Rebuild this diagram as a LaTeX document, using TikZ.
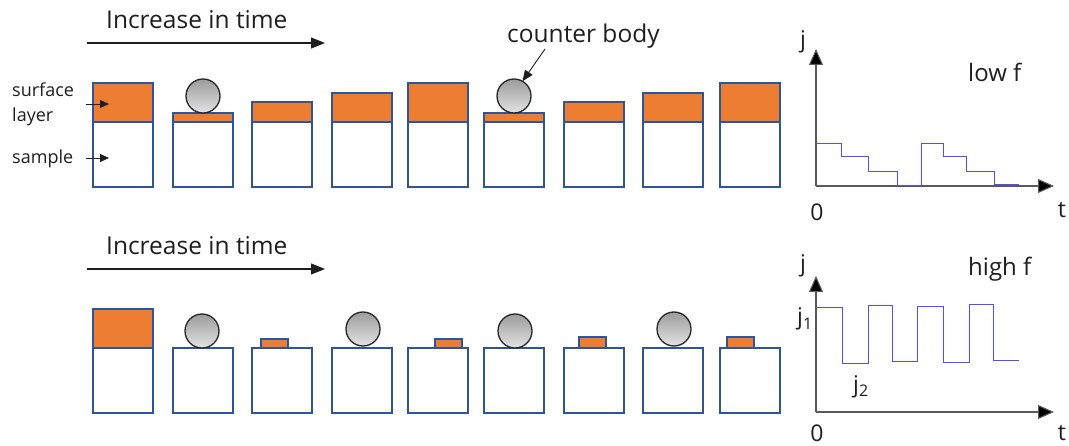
\documentclass[tikz,border=0pt]{standalone}
\usepackage{fontspec}
\setmainfont{Open Sans}
\usetikzlibrary{arrows.meta}
\definecolor{layerorange}{HTML}{ED7D31}
\definecolor{boxblue}{HTML}{2F5597}
\definecolor{curveblue}{HTML}{4F4FF5}
\definecolor{ink}{HTML}{1E1E1E}
\newcommand{\lowidx}[1]{\raisebox{-5pt}{\fontsize{16}{18}\selectfont #1}}
\begin{document}
\begin{tikzpicture}[x=1pt,y=-1pt,
  sample/.style={draw=boxblue, line width=1.4pt, fill=white, minimum width=60pt,
    minimum height=65pt, inner sep=0pt, outer sep=0pt, anchor=north west},
  layer/.style={draw=boxblue, line width=1.4pt, fill=layerorange, inner sep=0pt,
    outer sep=0pt, anchor=south west, minimum width=60pt},
  thinlayer/.style={layer, minimum width=27pt},
  ball/.style={circle, draw=black!85, line width=1.3pt, top color=gray!78,
    bottom color=gray!22, minimum size=34pt, inner sep=0pt, outer sep=0pt, anchor=south},
  label/.style={text=ink, inner sep=0pt, anchor=base west},
  timearrow/.style={draw=ink, line width=1.1pt, -{Triangle[length=14pt,width=11pt]}},
  pointer/.style={draw=ink, line width=0.9pt, -{Triangle[length=9pt,width=8pt]}},
  axis/.style={draw=black!65, line width=1.1pt, -{Triangle[length=16pt,width=14pt,fill=black]}},
  curve/.style={draw=curveblue, line width=1pt, line join=miter}]
\useasboundingbox (0,0) rectangle (1069,446);

% ---------- top row: low frequency ----------
\node[label, font=\fontsize{24.5}{28}\selectfont] (tA) at (106,29) {Increase in time};
\coordinate (tA0) at (87,43);
\coordinate (tA1) at (325,43);
\draw[timearrow] (tA0) -- (tA1);

\foreach \n/\x/\h in {1/93/39, 2/173/9, 3/252/20, 4/332/29, 5/408/39,
                      6/484/9, 7/564/20, 8/643/29, 9/720/39} {
  \node[sample] (s\n) at (\x,122) {};
  \node[layer, minimum height=\h pt] (l\n) at (\x,122) {};
}
\node[ball] (b2) at (l2.north) {};
\node[ball] (b6) at (l6.north) {};

\node[label, font=\fontsize{18}{20}\selectfont] (surf) at (12,97) {surface};
\node[label, font=\fontsize{18}{20}\selectfont] (lay) at (12,122) {layer};
\node[label, font=\fontsize{18}{20}\selectfont] (samp) at (12,164) {sample};
\coordinate (ps0) at (86,104);
\coordinate (ps1) at (109,104);
\coordinate (pm0) at (86,158);
\coordinate (pm1) at (109,158);
\draw[pointer] (ps0) -- (ps1);
\draw[pointer] (pm0) -- (pm1);

\node[label, font=\fontsize{24.5}{28}\selectfont] (cb) at (507,43) {counter body};
\coordinate (cb0) at (545,49);
\draw[pointer, -{Triangle[length=11pt,width=9pt]}] (cb0) -- (b6.60);

% ---------- bottom row: high frequency ----------
\node[label, font=\fontsize{24.5}{28}\selectfont] (tB) at (106,255) {Increase in time};
\coordinate (tB0) at (87,269);
\coordinate (tB1) at (325,269);
\draw[timearrow] (tB0) -- (tB1);

\foreach \n/\x in {1/93, 2/173, 3/252, 4/332, 5/408, 6/484, 7/564, 8/643, 9/720} {
  \node[sample] (r\n) at (\x,348) {};
}
\node[layer, minimum height=39pt] (m1) at (93,348) {};
\node[thinlayer, minimum height=9pt] (m3) at (261,348) {};
\node[thinlayer, minimum height=9pt] (m5) at (435,348) {};
\node[thinlayer, minimum height=11pt] (m7) at (579,348) {};
\node[thinlayer, minimum height=11pt] (m9) at (727,348) {};
\node[ball] (c2) at (202,348) {};
\node[ball] (c4) at (363,346) {};
\node[ball] (c6) at (515,348) {};
\node[ball] (c8) at (674,346) {};

% ---------- current plot, low f ----------
\coordinate (o1) at (816,186);
\coordinate (y1) at (816,49);
\coordinate (x1) at (1054,186);
\draw[axis] (o1) -- (y1);
\draw[axis] (o1) -- (x1);
\node[text=ink, font=\fontsize{23}{26}\selectfont, inner sep=0pt] (j1lab) at (803,42) {j};
\node[label, font=\fontsize{24}{28}\selectfont] (lowf) at (968,82) {low f};
\node[text=ink, font=\fontsize{23}{26}\selectfont, inner sep=0pt] (z1) at (817,212) {0};
\node[text=ink, font=\fontsize{23}{26}\selectfont, inner sep=0pt] (t1) at (1062,210) {t};
\draw[curve] (816,144) -| (841,157) -| (868,172) -| (897,186) -| (921,144)
  -| (943,157) -| (966,172) -| (994,185) -- (1019,185);

% ---------- current plot, high f ----------
\coordinate (o2) at (816,412);
\coordinate (y2) at (816,276);
\coordinate (x2) at (1054,412);
\draw[axis] (o2) -- (y2);
\draw[axis] (o2) -- (x2);
\node[text=ink, font=\fontsize{23}{26}\selectfont, inner sep=0pt] (j2lab) at (803,266) {j};
\node[label, font=\fontsize{24}{28}\selectfont] (highf) at (968,276) {high f};
\node[label, font=\fontsize{23}{26}\selectfont] (jone) at (797,325) {j\lowidx{1}};
\node[label, font=\fontsize{23}{26}\selectfont] (jtwo) at (853,392) {j\lowidx{2}};
\node[text=ink, font=\fontsize{23}{26}\selectfont, inner sep=0pt] (z2) at (817,433) {0};
\node[text=ink, font=\fontsize{23}{26}\selectfont, inner sep=0pt] (t2) at (1062,433) {t};
\draw[curve] (816,308) -| (842,364) -| (868,306) -| (892,362) -| (917,307)
  -| (943,363) -| (969,305) -| (993,361) -- (1019,361);
\end{tikzpicture}
\end{document}
